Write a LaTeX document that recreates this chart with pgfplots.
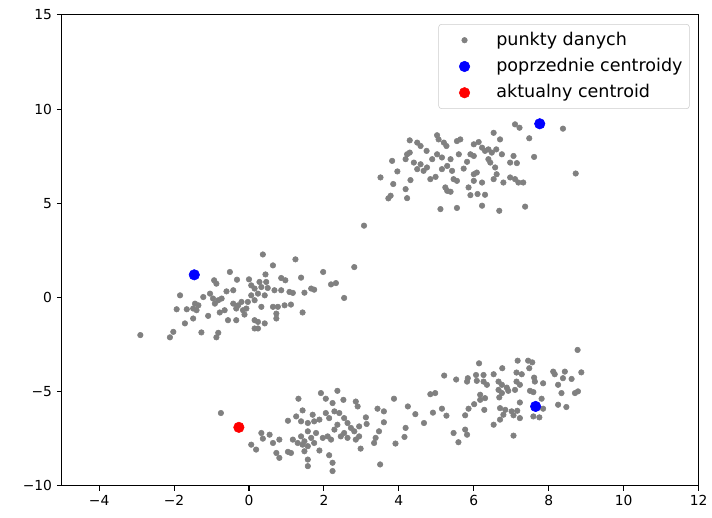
\documentclass[border=0pt]{standalone}
\usepackage{fontspec}
\setmainfont{DejaVu Sans}
\usepackage{pgfplots}
\pgfplotsset{compat=1.18}
\definecolor{mgray}{HTML}{808080}
\definecolor{mblue}{HTML}{0000FF}
\definecolor{mred}{HTML}{FF0000}
\definecolor{legedge}{HTML}{CCCCCC}
\begin{document}
\begin{tikzpicture}
\begin{axis}[
  scale only axis,
  width=460.8pt, height=340.6pt,
  xmin=-5, xmax=12, ymin=-10, ymax=15,
  xtick={-4,-2,0,2,4,6,8,10,12},
  xticklabels={−4,−2,0,2,4,6,8,10,12},
  ytick={-10,-5,0,5,10,15},
  yticklabels={−10,−5,0,5,10,15},
  tick align=outside,
  major tick length=3.5pt,
  tick style={black, line width=0.8pt},
  xtick pos=bottom, ytick pos=left,
  axis line style={line width=0.8pt},
  ticklabel style={font=\fontsize{10}{12}\selectfont},
  legend cell align=left,
  legend image code/.code={
    \path[draw=none, fill=none] (0pt,0pt) -- (36.8pt,0pt);
    \draw[#1] plot[only marks] coordinates {(13.8pt,0pt)};
  },
  legend style={
    at={([xshift=-6.5pt,yshift=-6.6pt]axis description cs:1,1)},
    anchor=north east,
    draw=legedge, rounded corners=2pt, fill=white,
    font=\fontsize{12.7}{15}\selectfont,
    nodes={inner sep=0pt, text height=9.5pt, text depth=2.5pt},
    row sep=7pt, column sep=0pt,
    inner xsep=4.9pt, inner ysep=5.5pt,
  },
]
% data points
\addplot[only marks, mark=*, mark size=2pt, mark options={fill=mgray, draw=mgray}] table {
x y
0.37 2.28
1.24 2.02
0.64 1.70
2.81 1.61
1.98 1.35
-0.51 1.35
0.44 1.22
1.39 1.05
-0.93 0.91
-0.32 0.94
0.00 0.96
0.86 1.03
0.97 0.91
-0.87 0.73
0.28 0.82
0.46 0.82
2.19 0.69
2.32 0.76
1.66 0.47
1.74 0.41
-1.84 0.11
-1.04 0.20
-0.60 0.32
-0.42 0.38
0.06 0.64
0.15 0.47
0.33 0.55
0.50 0.50
0.68 0.38
0.86 0.38
1.08 0.29
1.17 0.24
1.48 0.25
-1.22 0.02
-0.96 -0.06
-0.82 -0.15
-0.73 -0.06
0.06 0.11
0.24 0.20
0.42 0.11
2.54 -0.03
-1.44 -0.33
-1.35 -0.42
-0.91 -0.33
-0.42 -0.33
-0.29 -0.42
-0.20 -0.24
-0.03 -0.24
0.15 -0.15
-1.93 -0.63
-1.66 -0.63
-1.49 -0.59
-1.40 -0.68
-0.65 -0.68
-0.78 -0.80
-0.34 -0.59
-0.16 -0.68
-0.07 -0.59
0.33 -0.50
0.64 -0.50
0.77 -0.50
0.95 -0.42
1.12 -0.38
1.43 -0.80
-1.09 -0.98
-1.49 -1.12
-0.56 -1.21
-0.34 -1.21
-0.12 -0.91
0.15 -1.21
0.24 -1.30
0.42 -1.38
0.73 -1.12
0.73 -0.86
-1.71 -1.38
0.15 -1.65
0.24 -1.65
-1.27 -1.86
-0.82 -1.88
-2.02 -1.83
-2.11 -2.12
-0.87 -2.12
-2.90 -2.00
7.10 9.19
7.22 9.01
8.38 8.96
7.48 8.45
6.53 8.74
6.70 8.39
5.02 8.61
5.06 8.39
4.29 8.34
4.49 8.22
4.58 8.04
4.74 7.78
5.20 8.22
5.27 8.04
5.55 8.30
5.64 8.39
6.00 8.13
6.13 8.25
6.22 7.95
6.30 7.78
6.39 7.86
6.48 7.69
6.60 7.86
6.75 7.60
7.06 7.51
7.61 7.46
4.22 7.60
4.29 7.69
4.18 7.34
3.82 7.25
4.40 7.16
4.58 7.07
4.89 7.34
5.02 7.60
5.15 7.43
5.38 7.34
5.60 7.60
5.82 7.20
5.91 7.60
6.00 7.51
6.39 7.34
6.44 7.16
6.97 7.16
7.15 7.13
3.96 6.69
4.49 6.81
4.66 6.72
4.75 6.90
5.15 6.81
5.29 6.98
5.42 6.72
5.73 6.84
6.00 6.54
6.08 6.63
6.57 6.90
6.61 6.54
8.72 6.58
3.51 6.37
4.31 6.23
4.84 6.28
4.98 6.40
5.46 6.28
5.55 6.19
6.00 6.19
6.22 6.10
6.53 6.28
6.79 6.10
6.97 6.37
7.10 6.28
7.19 6.10
7.32 6.10
3.85 6.02
5.24 5.84
5.29 5.66
5.38 5.61
5.86 5.84
4.18 5.75
5.91 5.43
6.10 5.49
6.30 5.45
3.78 5.40
3.72 5.26
4.22 5.27
5.11 4.69
5.55 4.75
6.22 4.87
6.68 4.60
7.37 4.82
3.07 3.81
-0.75 -6.14
1.92 -5.08
2.05 -5.38
2.36 -4.96
2.52 -5.44
2.23 -5.61
2.85 -5.53
2.90 -5.79
1.32 -5.38
3.87 -5.38
3.43 -5.91
3.60 -6.05
1.43 -6.00
1.70 -6.23
1.26 -6.32
1.04 -6.55
1.39 -6.58
1.57 -6.67
1.74 -6.58
1.88 -6.49
2.05 -6.14
2.14 -6.41
2.28 -6.05
2.41 -6.14
2.54 -6.41
2.63 -6.67
2.36 -6.76
2.28 -7.02
2.72 -6.93
2.81 -7.11
2.94 -6.85
3.12 -6.37
3.14 -6.72
3.60 -6.63
4.18 -6.93
0.33 -7.20
0.55 -7.29
0.37 -7.50
0.64 -7.73
0.81 -7.55
1.17 -7.55
1.39 -7.38
1.48 -7.64
1.57 -7.11
1.66 -7.46
1.79 -7.20
1.97 -7.46
2.10 -7.38
2.19 -7.55
2.45 -7.38
2.54 -7.20
2.63 -7.46
2.85 -7.55
2.94 -7.38
3.47 -7.11
3.38 -7.46
3.34 -7.73
3.91 -7.76
1.30 -7.73
1.43 -7.82
1.57 -7.90
1.74 -7.73
0.06 -7.82
0.19 -8.08
0.73 -8.26
1.04 -8.20
1.12 -8.26
1.48 -8.17
1.88 -8.13
2.14 -8.38
2.98 -8.03
0.81 -8.52
1.57 -8.61
2.23 -8.78
1.57 -8.96
2.23 -9.22
3.50 -8.87
8.77 -2.79
7.17 -3.36
7.45 -3.36
7.56 -3.45
6.14 -3.50
6.76 -3.76
7.48 -3.76
8.12 -3.94
8.16 -4.08
8.43 -3.94
8.87 -3.98
5.21 -4.15
5.53 -4.36
5.84 -4.29
6.06 -4.12
6.26 -4.12
6.53 -4.08
7.14 -3.99
7.28 -4.08
7.61 -4.26
7.63 -4.47
7.85 -4.56
8.38 -4.29
8.61 -4.33
5.82 -4.47
6.08 -4.43
6.26 -4.47
6.35 -4.64
6.66 -4.47
6.75 -4.64
6.88 -4.79
7.14 -4.47
7.23 -4.64
4.84 -5.14
4.97 -5.08
6.66 -4.91
6.75 -5.08
6.92 -4.96
7.10 -4.91
7.50 -4.96
7.59 -5.03
7.81 -5.38
8.25 -4.64
8.34 -5.08
8.70 -5.08
8.78 -4.99
6.17 -5.17
6.30 -5.35
6.17 -5.44
6.68 -5.31
7.23 -5.58
8.25 -5.70
8.47 -5.82
4.24 -5.79
6.01 -5.67
5.86 -5.91
5.15 -5.91
6.70 -5.88
6.84 -5.97
7.01 -6.05
7.16 -6.02
7.85 -5.91
4.44 -6.20
4.91 -6.12
5.27 -6.28
5.77 -6.26
6.28 -5.97
6.79 -6.23
7.06 -6.26
7.23 -6.41
7.59 -6.32
7.75 -6.37
4.67 -6.67
6.53 -6.76
6.70 -6.49
4.15 -7.41
5.46 -7.20
5.77 -7.02
5.82 -7.29
7.06 -7.34
5.59 -7.69
};
\addlegendentry{punkty danych}
% previous centroids
\addplot[only marks, mark=*, mark size=3.8pt, mark options={fill=mblue, draw=mblue}] table {
x y
-1.46 1.20
7.76 9.22
7.65 -5.79
};
\addlegendentry{poprzednie centroidy}
% current centroid
\addplot[only marks, mark=*, mark size=3.8pt, mark options={fill=mred, draw=mred}] table {
x y
-0.27 -6.90
};
\addlegendentry{aktualny centroid}
\end{axis}
\path ([xshift=-44.6pt,yshift=-23pt]current axis.south west) rectangle ([xshift=7.2pt,yshift=10.8pt]current axis.north east);
\end{tikzpicture}
\end{document}
